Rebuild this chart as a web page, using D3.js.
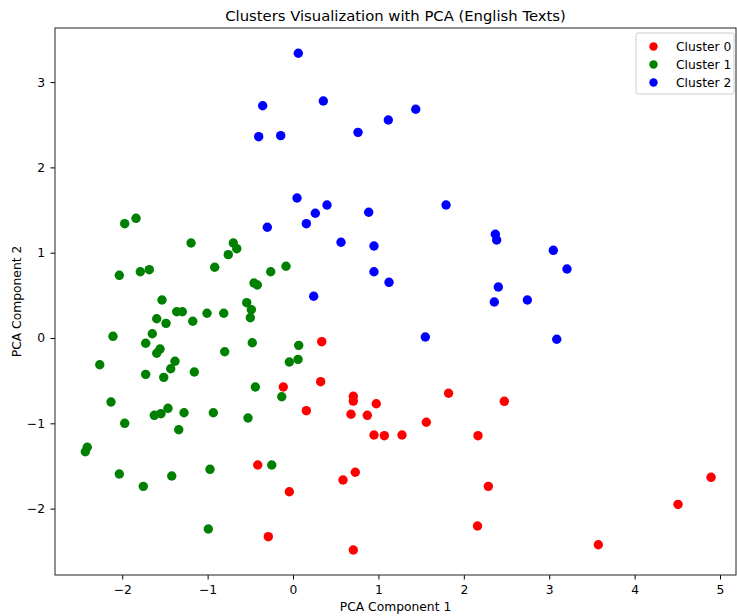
<!DOCTYPE html>
<html>
<head>
<meta charset="utf-8">
<script src="https://cdn.jsdelivr.net/npm/d3@7"></script>
<style>
  body { margin: 0; background: #fff; }
  text { font-family: "DejaVu Sans", sans-serif; fill: #000; }
</style>
</head>
<body>
<div id="chart"></div>
<script>
// cluster points [pc1, pc2]
var cluster0 = [
  [0.336, -0.043], [0.324, -0.512], [-0.114, -0.574], [0.706, -0.683], [0.706, -0.739],
  [0.975, -0.770], [0.156, -0.852], [0.679, -0.894], [0.870, -0.906], [1.821, -0.647],
  [1.561, -0.988], [0.948, -1.137], [1.069, -1.145], [1.276, -1.137], [2.166, -1.145],
  [2.474, -0.742], [-0.413, -1.489], [0.729, -1.574], [0.585, -1.665], [-0.043, -1.802],
  [-0.289, -2.329], [0.706, -2.485], [2.287, -1.739], [2.160, -2.204], [3.575, -2.423],
  [4.508, -1.950], [4.895, -1.633]
];
var cluster1 = [
  [-1.971, 1.340], [-1.838, 1.403], [-1.194, 1.114], [-0.699, 1.114], [-0.659, 1.047],
  [-0.758, 0.977], [-2.034, 0.735], [-1.788, 0.777], [-1.683, 0.801], [-0.917, 0.829],
  [-0.261, 0.777], [-0.082, 0.841], [-0.457, 0.645], [-0.418, 0.621], [-1.534, 0.445],
  [-1.362, 0.308], [-1.296, 0.308], [-1.596, 0.226], [-1.487, 0.172], [-1.174, 0.196],
  [-1.007, 0.290], [-0.811, 0.290], [-0.542, 0.414], [-0.488, 0.332], [-0.500, 0.238],
  [-2.108, 0.020], [-1.648, 0.050], [-1.725, -0.062], [-1.557, -0.129], [-1.596, -0.179],
  [-0.477, -0.055], [-0.800, -0.161], [-2.263, -0.313], [-1.382, -0.273], [-1.432, -0.360],
  [-1.725, -0.426], [-1.514, -0.461], [-1.156, -0.399], [-0.043, -0.281], [0.059, -0.250],
  [0.067, -0.086], [-0.441, -0.574], [-0.132, -0.688], [-2.131, -0.750], [-1.624, -0.906],
  [-1.546, -0.887], [-1.464, -0.824], [-1.276, -0.876], [-0.933, -0.876], [-0.527, -0.938],
  [-1.971, -1.000], [-1.338, -1.075], [-2.409, -1.281], [-2.432, -1.333], [-2.034, -1.594],
  [-1.753, -1.739], [-1.420, -1.618], [-0.972, -1.539], [-0.249, -1.489], [-0.992, -2.239]
];
var cluster2 = [
  [0.062, 3.338], [-0.355, 2.723], [0.355, 2.778], [-0.402, 2.360], [-0.144, 2.372],
  [0.761, 2.411], [1.116, 2.556], [1.437, 2.681], [0.047, 1.641], [0.398, 1.559],
  [0.261, 1.462], [0.886, 1.474], [1.792, 1.559], [0.156, 1.340], [-0.301, 1.298],
  [0.562, 1.122], [0.948, 1.079], [0.948, 0.777], [1.124, 0.653], [0.242, 0.489],
  [1.549, 0.012], [2.369, 1.216], [2.385, 1.149], [3.048, 1.028], [3.208, 0.809],
  [2.404, 0.598], [2.357, 0.422], [2.744, 0.445], [3.088, -0.015]
];
var clusterNames = ["Cluster 0", "Cluster 1", "Cluster 2"];
var clusterColors = ["red", "green", "blue"];
var xTicks = [-2, -1, 0, 1, 2, 3, 4, 5];
var yTicks = [-2, -1, 0, 1, 2, 3];

var W = 737, H = 616;
var box = { left: 55, right: 736, top: 28, bottom: 575 };

var svg = d3.select("#chart").append("svg")
  .attr("width", W)
  .attr("height", H);

var x = d3.scaleLinear().domain([-2.787, 5.187]).range([box.left, box.right]);
var y = d3.scaleLinear().domain([-2.778, 3.634]).range([box.bottom, box.top]);

// axes
var xAxis = d3.axisBottom(x).tickValues(xTicks).tickSize(4.5).tickPadding(5.5).tickFormat(d3.format("d"));
var yAxis = d3.axisLeft(y).tickValues(yTicks).tickSize(4.5).tickPadding(5.5).tickFormat(d3.format("d"));

var gx = svg.append("g").attr("transform", "translate(0," + box.bottom + ")").call(xAxis);
var gy = svg.append("g").attr("transform", "translate(" + box.left + ",0)").call(yAxis);
[gx, gy].forEach(function(g) {
  g.select(".domain").remove();
  g.selectAll(".tick line").attr("stroke", "#000").attr("stroke-width", 1);
  g.selectAll(".tick text").attr("font-size", 12.3).attr("fill", "#222")
    .attr("font-family", "DejaVu Sans, sans-serif");
});

// points, cluster 0 first so later clusters sit on top
[cluster0, cluster1, cluster2].forEach(function(pts, i) {
  svg.append("g").selectAll("circle")
    .data(pts)
    .enter().append("circle")
    .attr("cx", function(d) { return x(d[0]); })
    .attr("cy", function(d) { return y(d[1]); })
    .attr("r", 4.7)
    .attr("fill", clusterColors[i]);
});

// frame
svg.append("rect")
  .attr("x", box.left).attr("y", box.top)
  .attr("width", box.right - box.left).attr("height", box.bottom - box.top)
  .attr("fill", "none").attr("stroke", "#222").attr("stroke-width", 1);

// title + labels
svg.append("text")
  .attr("x", (box.left + box.right) / 2).attr("y", 21)
  .attr("text-anchor", "middle").attr("font-size", 14.8)
  .text("Clusters Visualization with PCA (English Texts)");

svg.append("text")
  .attr("x", (box.left + box.right) / 2).attr("y", 611)
  .attr("text-anchor", "middle").attr("font-size", 12.3)
  .text("PCA Component 1");

svg.append("text")
  .attr("transform", "translate(20.5," + (box.top + box.bottom) / 2 + ") rotate(-90)")
  .attr("text-anchor", "middle").attr("font-size", 12.3)
  .text("PCA Component 2");

// legend
var leg = svg.append("g").attr("transform", "translate(636,33)");
leg.append("rect")
  .attr("width", 98).attr("height", 61).attr("rx", 2)
  .attr("fill", "#fff").attr("fill-opacity", 0.8)
  .attr("stroke", "#ccc").attr("stroke-width", 1);
clusterNames.forEach(function(name, i) {
  var row = leg.append("g").attr("transform", "translate(0," + (13.5 + i * 18) + ")");
  row.append("circle").attr("cx", 17.5).attr("cy", 0).attr("r", 4.2).attr("fill", clusterColors[i]);
  row.append("text").attr("x", 40).attr("y", 0).attr("dy", "0.35em")
    .attr("font-size", 12.3).text(name);
});
</script>
</body>
</html>
